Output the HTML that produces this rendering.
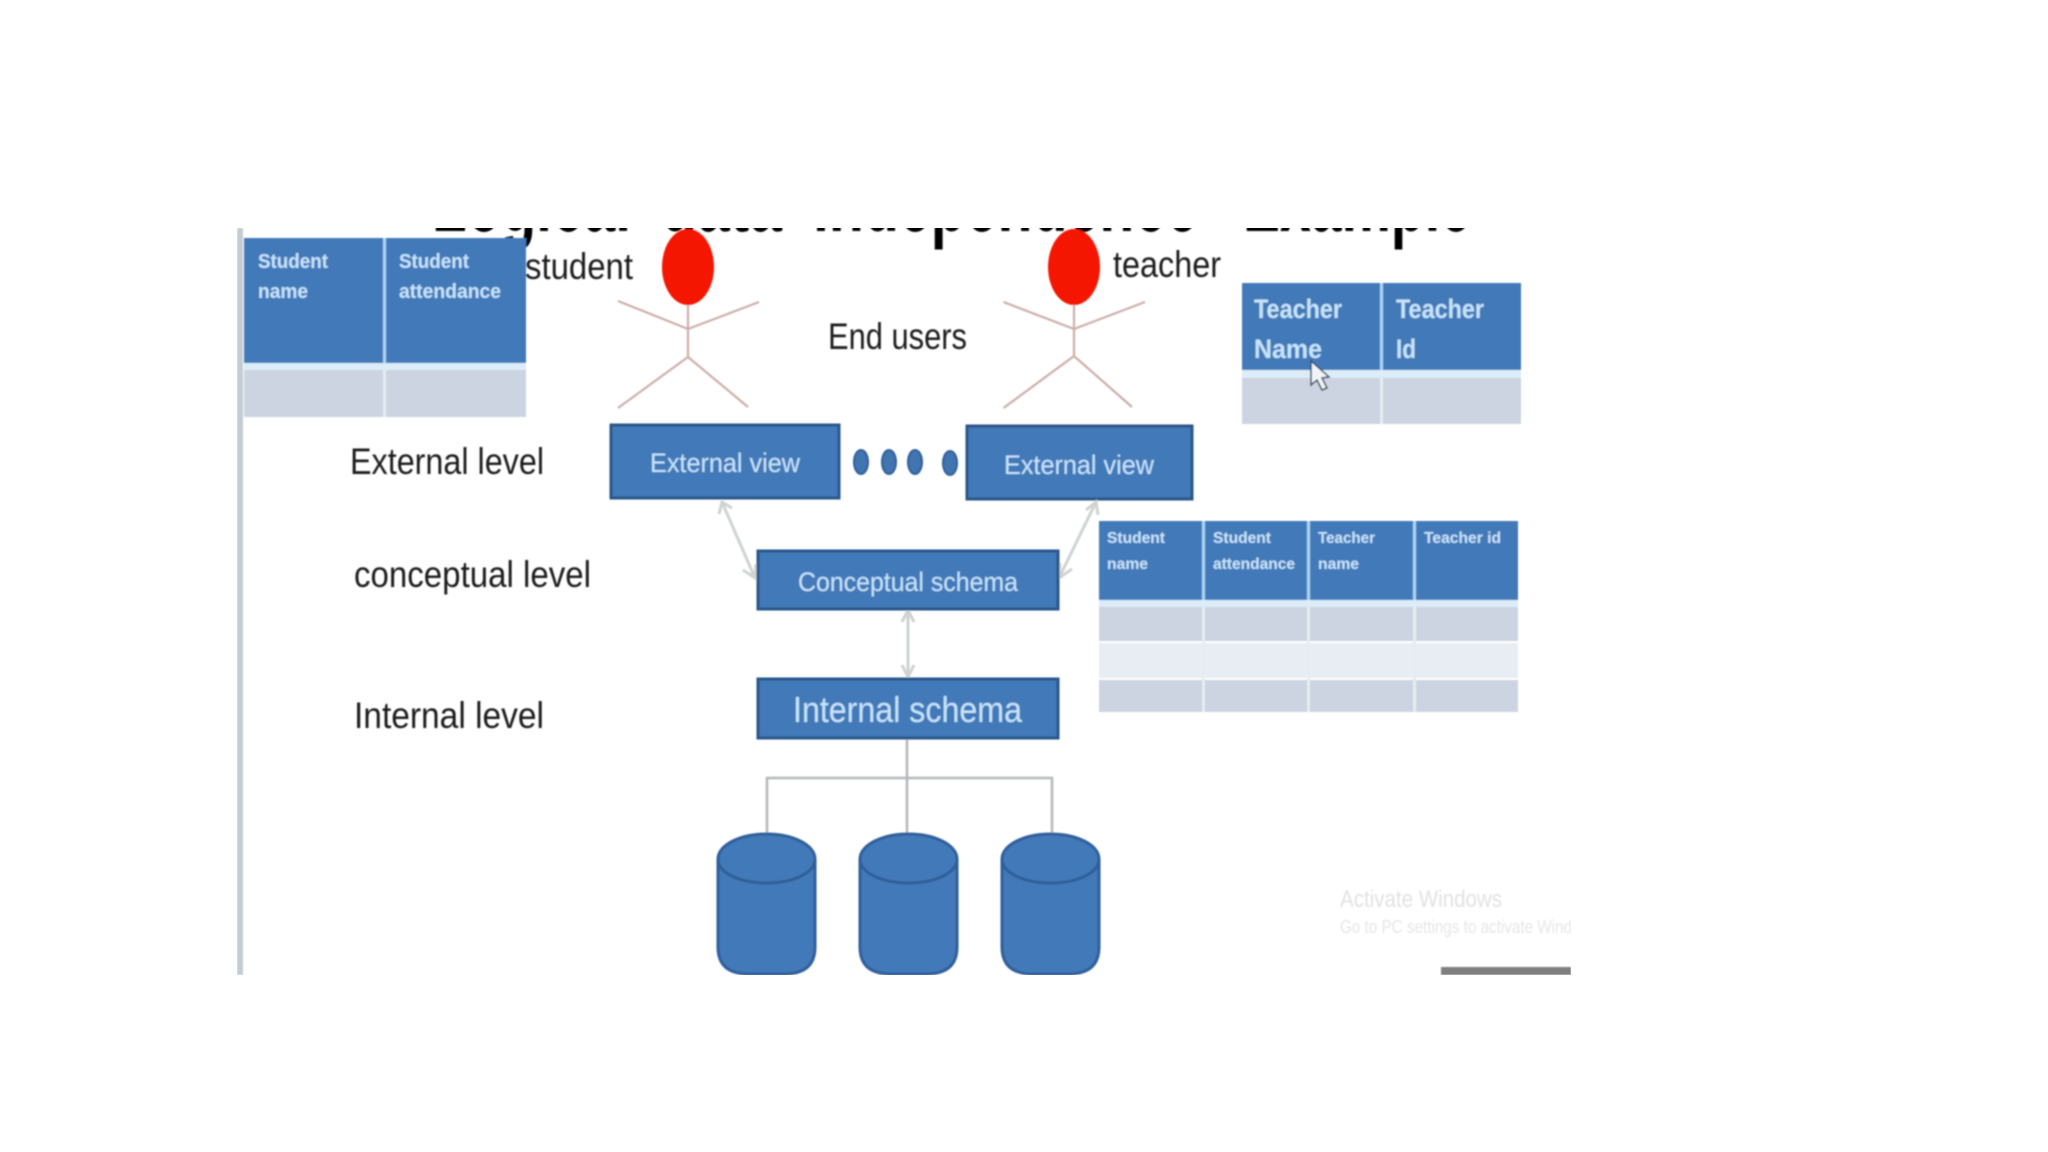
<!DOCTYPE html>
<html><head><meta charset="utf-8"><style>
html,body{margin:0;padding:0;background:#fff;width:2048px;height:1152px;overflow:hidden}
svg{display:block}
text{font-family:"Liberation Sans",sans-serif}
.k{fill:#1c1c1c;font-size:37px}
.w{fill:#c6e3fb}
.h{fill:#c6e3fb;font-weight:bold}
.t{fill:#050505;font-size:90px;font-weight:bold}
</style></head><body>
<svg width="2048" height="1152" viewBox="0 0 2048 1152" xmlns="http://www.w3.org/2000/svg">
<defs>
<clipPath id="page"><rect x="237" y="228" width="1334" height="747"/></clipPath>
<filter id="b" x="-5%" y="-5%" width="110%" height="110%"><feGaussianBlur stdDeviation="0.9"/></filter>
<g id="cyl"><path d="M0 25V113Q0 140 31 140H66Q97 140 97 113V25C97 11 75 0 48.5 0S0 11 0 25Z" fill="#4279b8" stroke="#2f5f9b" stroke-width="3"/><path d="M0 25C0 39 22 49 48.5 49S97 39 97 25" fill="none" stroke="#2f5f9b" stroke-width="3"/></g>
</defs>
<g clip-path="url(#page)"><g filter="url(#b)">
<rect x="237" y="228" width="6" height="747" fill="#c3ccd3"/>
<text class="t" x="432" y="231" textLength="199" lengthAdjust="spacingAndGlyphs">Logical</text>
<text class="t" x="661" y="231" textLength="121" lengthAdjust="spacingAndGlyphs">data</text>
<text class="t" x="813" y="231" textLength="385" lengthAdjust="spacingAndGlyphs">independence</text>
<text class="t" x="1243" y="231" textLength="228" lengthAdjust="spacingAndGlyphs">Example</text>

<!-- student table -->
<rect x="244" y="238" width="282" height="125" fill="#4279b8"/>
<rect x="244" y="363" width="282" height="7" fill="#dcecf8"/>
<rect x="244" y="370" width="282" height="47" fill="#cbd4e0"/>
<rect x="383" y="238" width="3" height="125" fill="#a9d4f5"/>
<rect x="383" y="370" width="3" height="47" fill="#e6ecf2"/>
<text class="h" x="258" y="268" font-size="20" textLength="70" lengthAdjust="spacingAndGlyphs">Student</text>
<text class="h" x="258" y="298" font-size="20" textLength="50" lengthAdjust="spacingAndGlyphs">name</text>
<text class="h" x="399" y="268" font-size="20" textLength="70" lengthAdjust="spacingAndGlyphs">Student</text>
<text class="h" x="399" y="298" font-size="20" textLength="102" lengthAdjust="spacingAndGlyphs">attendance</text>

<text class="k" x="525" y="279" textLength="108" lengthAdjust="spacingAndGlyphs">student</text>
<text class="k" x="1113" y="277" textLength="108" lengthAdjust="spacingAndGlyphs">teacher</text>
<text class="k" x="828" y="349" textLength="139" lengthAdjust="spacingAndGlyphs">End users</text>
<text class="k" x="350" y="474" textLength="194" lengthAdjust="spacingAndGlyphs">External level</text>
<text class="k" x="354" y="587" textLength="237" lengthAdjust="spacingAndGlyphs">conceptual level</text>
<text class="k" x="354" y="728" textLength="190" lengthAdjust="spacingAndGlyphs">Internal level</text>

<!-- actors -->
<g fill="none" stroke="#cdaea8" stroke-width="2.2">
<path d="M688 304V357M618 301L688 329L759 302M618 408L688 357L748 407"/>
<path d="M1074 304V357M1003.5 302L1074 329L1145 302M1003.5 408L1074 356L1132 407"/>
</g>
<ellipse cx="688" cy="267" rx="26" ry="38" fill="#f51800"/>
<ellipse cx="1074" cy="267" rx="26" ry="38" fill="#f51800"/>

<!-- teacher table -->
<rect x="1242" y="283" width="279" height="87" fill="#4279b8"/>
<rect x="1242" y="370" width="279" height="8" fill="#dcecf8"/>
<rect x="1242" y="378" width="279" height="46" fill="#cbd4e0"/>
<rect x="1380" y="283" width="3" height="87" fill="#a9d4f5"/>
<rect x="1380" y="378" width="3" height="46" fill="#e6ecf2"/>
<text class="h" x="1254" y="318" font-size="27" textLength="88" lengthAdjust="spacingAndGlyphs">Teacher</text>
<text class="h" x="1254" y="358" font-size="27" textLength="68" lengthAdjust="spacingAndGlyphs">Name</text>
<text class="h" x="1396" y="318" font-size="27" textLength="88" lengthAdjust="spacingAndGlyphs">Teacher</text>
<text class="h" x="1396" y="358" font-size="27" textLength="20" lengthAdjust="spacingAndGlyphs">Id</text>
<path d="M1311 361V385L1317 380L1322 390L1327 388L1322 378L1329 377Z" fill="#f0f4f8" stroke="#34495e" stroke-width="1.5"/>

<!-- external views -->
<rect x="611" y="425" width="228" height="73" fill="#4279b8" stroke="#2c5688" stroke-width="3"/>
<text class="w" x="650" y="472" font-size="27" textLength="150" lengthAdjust="spacingAndGlyphs">External view</text>
<rect x="967" y="426" width="225" height="73" fill="#4279b8" stroke="#2c5688" stroke-width="3"/>
<text class="w" x="1004" y="474" font-size="27" textLength="150" lengthAdjust="spacingAndGlyphs">External view</text>
<g fill="#3f74b0" stroke="#2f5f9b" stroke-width="2">
<ellipse cx="861" cy="462" rx="7" ry="12"/><ellipse cx="889" cy="462" rx="7" ry="12"/><ellipse cx="915" cy="462" rx="7" ry="12"/><ellipse cx="950" cy="463" rx="7" ry="12"/>
</g>

<!-- connectors -->
<g fill="none" stroke="#cfd3d3" stroke-width="3">
<path d="M722 502L755 578M719 514L722 502L732 508M743 570L755 578L756 564"/>
<path d="M1096 502L1059 578M1086 510L1096 502L1098 515M1060 563L1059 578L1072 569"/>
<path d="M908 610V677M902 622L908 610L914 622M902 665L908 677L914 665"/>
<path d="M907 738V833M767 833V778H1052V833" stroke="#b4b8ba" stroke-width="2.5"/>
</g>

<!-- schema boxes -->
<rect x="758" y="551" width="300" height="58" fill="#4279b8" stroke="#2c5688" stroke-width="3"/>
<text class="w" x="798" y="591" font-size="27" textLength="220" lengthAdjust="spacingAndGlyphs">Conceptual schema</text>
<rect x="758" y="679" width="300" height="59" fill="#4279b8" stroke="#2c5688" stroke-width="3"/>
<text class="w" x="793" y="722" font-size="36" textLength="229" lengthAdjust="spacingAndGlyphs">Internal schema</text>

<!-- combined table -->
<rect x="1099" y="521" width="419" height="79" fill="#4279b8"/>
<rect x="1099" y="600" width="419" height="7" fill="#dcecf8"/>
<rect x="1099" y="607" width="419" height="34" fill="#cbd4e0"/>
<rect x="1099" y="643" width="419" height="35" fill="#e8edf3"/>
<rect x="1099" y="680" width="419" height="32" fill="#cbd4e0"/>
<g fill="#a9d4f5"><rect x="1202" y="521" width="3" height="79"/><rect x="1307" y="521" width="3" height="79"/><rect x="1413" y="521" width="3" height="79"/></g>
<g fill="#e6ecf2"><rect x="1202" y="607" width="3" height="105"/><rect x="1307" y="607" width="3" height="105"/><rect x="1413" y="607" width="3" height="105"/></g>
<text class="h" x="1107" y="543" font-size="16" textLength="58" lengthAdjust="spacingAndGlyphs">Student</text>
<text class="h" x="1107" y="569" font-size="16" textLength="41" lengthAdjust="spacingAndGlyphs">name</text>
<text class="h" x="1213" y="543" font-size="16" textLength="58" lengthAdjust="spacingAndGlyphs">Student</text>
<text class="h" x="1213" y="569" font-size="16" textLength="82" lengthAdjust="spacingAndGlyphs">attendance</text>
<text class="h" x="1318" y="543" font-size="16" textLength="57" lengthAdjust="spacingAndGlyphs">Teacher</text>
<text class="h" x="1318" y="569" font-size="16" textLength="41" lengthAdjust="spacingAndGlyphs">name</text>
<text class="h" x="1424" y="543" font-size="16" textLength="77" lengthAdjust="spacingAndGlyphs">Teacher id</text>

<!-- cylinders -->
<use href="#cyl" x="718" y="834"/>
<use href="#cyl" x="860" y="834"/>
<use href="#cyl" x="1002" y="834"/>

<text x="1340" y="907" font-size="24" fill="#e2e2e2" textLength="162" lengthAdjust="spacingAndGlyphs">Activate Windows</text>
<text x="1340" y="933" font-size="18" fill="#e6e6e6" textLength="232" lengthAdjust="spacingAndGlyphs">Go to PC settings to activate Wind</text>
<rect x="1441" y="967" width="130" height="8" fill="#7f7f7f"/>
</g></g>
</svg>
</body></html>
